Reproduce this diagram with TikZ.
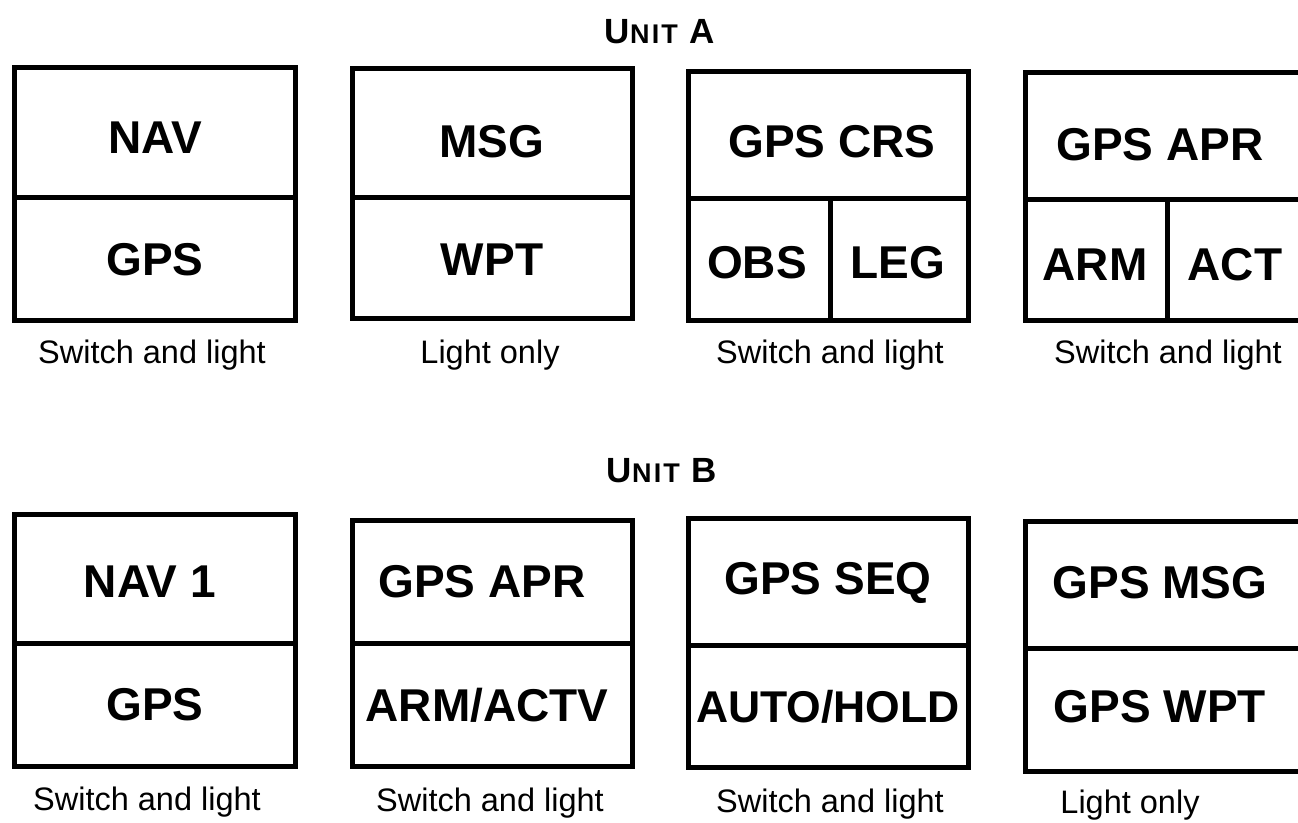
\documentclass[tikz,border=0pt]{standalone}
\usepackage{fontspec}
\setmainfont{Liberation Sans}
\begin{document}
\begin{tikzpicture}[x=1pt,y=-1pt,
  panel/.style={line width=5pt},
  lbl/.style={font=\fontsize{46}{46}\selectfont\bfseries, inner sep=0pt, anchor=center},
  capt/.style={font=\fontsize{32.5}{32.5}\selectfont, inner sep=0pt, anchor=base},
  ttl/.style={inner sep=0pt, anchor=base}]
\useasboundingbox (0,0) rectangle (1298,822);
\clip (0,0) rectangle (1298,822);
\newcommand{\unitttl}[1]{{\fontsize{35}{35}\selectfont\bfseries U}{\fontsize{27}{27}\selectfont\bfseries \addfontfeatures{LetterSpace=8}NIT}\hspace{12pt}{\fontsize{35}{35}\selectfont\bfseries #1}}
% titles
\node[ttl] (tA) at (660,43) {\unitttl{A}};
\node[ttl] (tB) at (662,482) {\unitttl{B}};
% ---- Unit A
\draw[panel] (14,67) rectangle (295,320);
\draw[panel] (14,197) -- (293,197);
\draw[panel] (352,68) rectangle (632,318);
\draw[panel] (352,197) -- (630,197);
\draw[panel] (688,71) rectangle (968,320);
\draw[panel] (688,198) -- (966,198);
\draw[panel] (830,198) -- (830,320);
\draw[panel] (1025,72) rectangle (1310,320);
\draw[panel] (1025,199) -- (1310,199);
\draw[panel] (1167,199) -- (1167,320);
\node[lbl] (a1t) at (155,138) {NAV};
\node[lbl] (a1b) at (155,260) {GPS};
\node[lbl] (a2t) at (492,142) {MSG};
\node[lbl] (a2b) at (492,260) {WPT};
\node[lbl] (a3t) at (832,142) {GPS CRS};
\node[lbl] (a3l) at (757,263) {OBS};
\node[lbl] (a3r) at (898,263) {LEG};
\node[lbl] (a4t) at (1160,145) {GPS APR};
\node[lbl] (a4l) at (1095,265) {ARM};
\node[lbl] (a4r) at (1235,265) {ACT};
\node[capt] (ca1) at (152,363) {Switch and light};
\node[capt] (ca2) at (490,363) {Light only};
\node[capt] (ca3) at (830,363) {Switch and light};
\node[capt] (ca4) at (1168,363) {Switch and light};
% ---- Unit B
\draw[panel] (14,514) rectangle (295,766);
\draw[panel] (14,643) -- (293,643);
\draw[panel] (352,520) rectangle (632,766);
\draw[panel] (352,643) -- (630,643);
\draw[panel] (688,518) rectangle (968,767);
\draw[panel] (688,645) -- (966,645);
\draw[panel] (1025,521) rectangle (1310,771);
\draw[panel] (1025,648) -- (1310,648);
\node[lbl] (b1t) at (150,582) {NAV 1};
\node[lbl] (b1b) at (155,705) {GPS};
\node[lbl] (b2t) at (482,582) {GPS APR};
\node[lbl] (b2b) at (487,705) {ARM/ACTV};
\node[lbl] (b3t) at (828,583) {GPS SEQ};
\node[lbl,font=\fontsize{44.5}{44.5}\selectfont\bfseries] (b3b) at (828,707) {AUTO/HOLD};
\node[lbl] (b4t) at (1160,583) {GPS MSG};
\node[lbl] (b4b) at (1160,707) {GPS WPT};
\node[capt] (cb1) at (147,810) {Switch and light};
\node[capt] (cb2) at (490,811) {Switch and light};
\node[capt] (cb3) at (830,812) {Switch and light};
\node[capt] (cb4) at (1130,813) {Light only};
\end{tikzpicture}
\end{document}
